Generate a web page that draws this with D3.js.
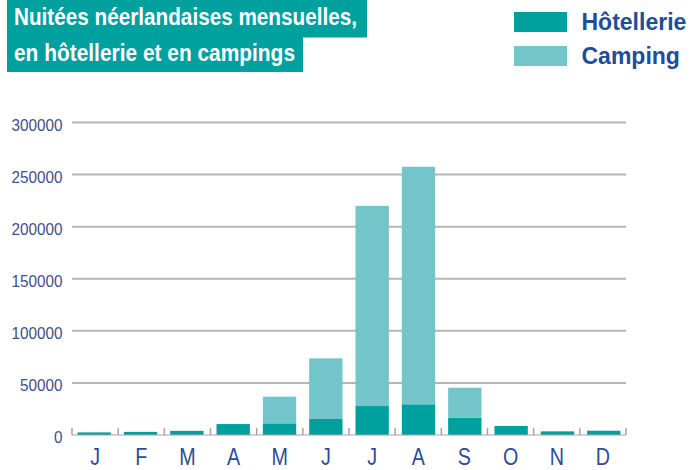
<!DOCTYPE html>
<html>
<head>
<meta charset="utf-8">
<script src="https://cdn.jsdelivr.net/npm/d3@7"></script>
<style>
  body { margin: 0; background: #fff; }
  svg { display: block; font-family: "Liberation Sans", Arial, sans-serif; }
</style>
</head>
<body>
<script>
// data
const months = ["J", "F", "M", "A", "M", "J", "J", "A", "S", "O", "N", "D"];
const hotellerie = [2500, 3000, 4000, 10500, 11200, 15400, 27800, 29500, 16600, 8700, 3500, 4100];
const camping = [0, 0, 0, 0, 25600, 58200, 192200, 228000, 28800, 0, 0, 0];
const yTicks = [0, 50000, 100000, 150000, 200000, 250000, 300000];
const titleLines = ["Nuitées néerlandaises mensuelles,", "en hôtellerie et en campings"];
const seriesNames = ["Hôtellerie", "Camping"];

const colors = { hotel: "#00a09f", camping: "#72c5c8", blue: "#1d4d9b", axisText: "#3f4f8f", grid: "#b5b5b5" };

const width = 691, height = 470;
const svg = d3.select("body").append("svg")
    .attr("width", width)
    .attr("height", height);

// table for the stack
const rows = months.map((m, i) => ({ idx: i, hotel: hotellerie[i], camping: camping[i] }));
const stacked = d3.stack().keys(["hotel", "camping"])(rows);

const x = d3.scaleBand()
    .domain(d3.range(months.length))
    .range([72, 626])
    .paddingInner(0.28)
    .paddingOuter(0.12);
// same months without padding: for boundary ticks and labels
const xTick = d3.scaleBand()
    .domain(d3.range(months.length))
    .range([72, 626]);
const y = d3.scaleLinear()
    .domain([0, 300000])
    .range([435, 122.5]);

// gridlines
svg.append("g")
    .selectAll("line")
    .data(yTicks.filter(d => d > 0))
    .join("line")
    .attr("x1", 72)
    .attr("x2", 626)
    .attr("y1", d => y(d))
    .attr("y2", d => y(d))
    .attr("stroke", colors.grid)
    .attr("stroke-width", 2);

// y axis labels
const yAxis = svg.append("g")
    .attr("transform", "translate(72,0)")
    .call(d3.axisLeft(y).tickValues(yTicks).tickSize(0).tickPadding(0).tickFormat(d3.format("d")));
yAxis.select(".domain").remove();
yAxis.selectAll("text")
    .attr("x", -10.5)
    .attr("dy", "0.45em")
    .attr("transform", "scale(0.9,1)")
    .style("font-size", "17px")
    .style("font-family", "Liberation Sans, Arial, sans-serif")
    .attr("fill", colors.axisText);

// bars
svg.append("g")
    .selectAll("g")
    .data(stacked)
    .join("g")
    .attr("fill", s => s.key === "hotel" ? colors.hotel : colors.camping)
    .selectAll("rect")
    .data(s => s.filter(d => d[1] > d[0]))
    .join("rect")
    .attr("x", d => x(d.data.idx))
    .attr("width", x.bandwidth())
    .attr("y", d => y(d[1]))
    .attr("height", d => y(d[0]) - y(d[1]));

// bottom axis: baseline with small upward ticks at the month boundaries
const base = svg.append("g").attr("transform", "translate(0," + y(0) + ")");
base.append("line")
    .attr("x1", 72).attr("x2", 626)
    .attr("stroke", "#a9a2a2")
    .attr("stroke-width", 1);
base.selectAll("line.tick")
    .data(d3.range(months.length + 1))
    .join("line")
    .attr("class", "tick")
    .attr("x1", i => i < months.length ? xTick(i) : xTick.range()[1])
    .attr("x2", i => i < months.length ? xTick(i) : xTick.range()[1])
    .attr("y1", 0)
    .attr("y2", -7)
    .attr("stroke", "#a9a2a2")
    .attr("stroke-width", 1.5);

const xAxis = svg.append("g")
    .attr("transform", "translate(0," + y(0) + ")")
    .call(d3.axisBottom(xTick).tickSize(0).tickFormat(i => months[i]));
xAxis.select(".domain").remove();
// text-anchor is middle at x=0, so the squeeze keeps each letter centred
xAxis.selectAll("text")
    .attr("y", 30.5)
    .attr("dy", 0)
    .attr("transform", "scale(0.84,1)")
    .style("font-size", "23.5px")
    .style("font-family", "Liberation Sans, Arial, sans-serif")
    .attr("fill", "#2e4b98");

// title boxes
const title = svg.append("g");
title.append("rect").attr("x", 7).attr("y", 0).attr("width", 360).attr("height", 37.5).attr("fill", colors.hotel);
title.append("rect").attr("x", 7).attr("y", 37).attr("width", 296).attr("height", 35).attr("fill", colors.hotel);
title.selectAll("text")
    .data(titleLines)
    .join("text")
    .attr("x", 14)
    .attr("y", (d, i) => i === 0 ? 25 : 60.5)
    .attr("textLength", (d, i) => i === 0 ? 343 : 281)
    .attr("lengthAdjust", "spacingAndGlyphs")
    .attr("fill", "#fff")
    .style("font-size", "24.5px")
    .style("font-weight", "bold")
    .text(d => d);

// legend
const legend = svg.append("g")
    .selectAll("g")
    .data(seriesNames)
    .join("g")
    .attr("transform", (d, i) => "translate(514," + (i === 0 ? 12 : 46) + ")");
legend.append("rect")
    .attr("width", 53)
    .attr("height", 20)
    .attr("fill", (d, i) => i === 0 ? colors.hotel : colors.camping);
legend.append("text")
    .attr("x", 67.5)
    .attr("y", 17.5)
    .attr("fill", colors.blue)
    .style("font-size", "23px")
    .style("font-weight", "bold")
    .text(d => d);
</script>
</body>
</html>
